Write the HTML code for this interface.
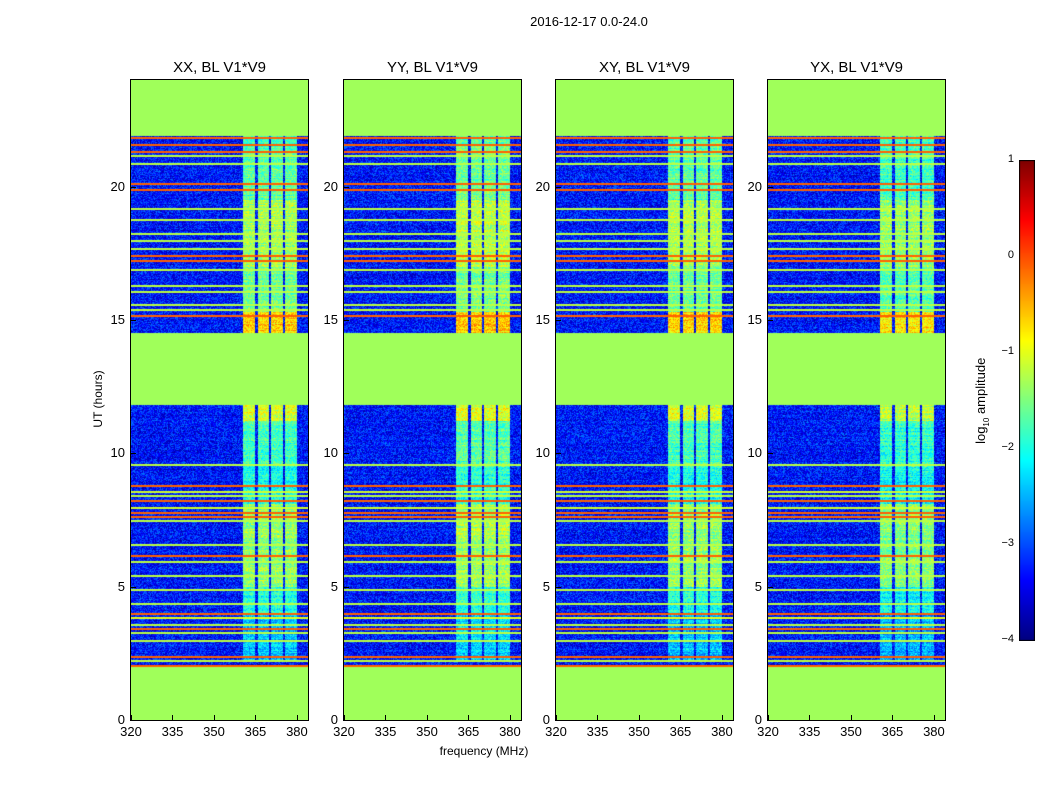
<!DOCTYPE html>
<html><head><meta charset="utf-8">
<style>
body{margin:0;background:#fff;width:1050px;height:800px;position:relative;overflow:hidden;font-family:"Liberation Sans","DejaVu Sans",sans-serif;color:#000}
.t{position:absolute;white-space:nowrap}
canvas{position:absolute}
</style></head><body>
<div class="t" style="left:489px;top:14px;width:200px;text-align:center;font-size:13px">2016-12-17 0.0-24.0</div>
<div id="root"></div>
<canvas id="cb" width="16" height="481" style="left:1019px;top:160px"></canvas>
<div class="t" style="left:932px;top:392px;width:100px;text-align:center;font-size:13px;transform:rotate(-90deg)">log<sub style="font-size:8px">10</sub> amplitude</div>
<script>
const titles=["XX, BL V1*V9","YY, BL V1*V9","XY, BL V1*V9","YX, BL V1*V9"];
const panelLeft=[131,344,556,768];
const xTicks=[320,335,350,365,380];
const yTicks=[0,5,10,15,20];
const cbTicks=[-4,-3,-2,-1,0,1];
const flagged=[[0,2.0],[11.8,14.5],[21.9,24]];
// horizontal RFI lines [hour, log amplitude]
const lines=[[21.85,-0.1],[21.6,-0.1],[21.35,-0.1],[21.2,-1.2],[20.9,-1.2],[20.15,-0.1],[19.9,-0.1],[19.2,-1.2],[18.8,-1.2],[18.25,-1.2],[18.0,-1.2],[17.7,-1.2],[17.45,-0.1],[17.25,-0.1],[16.9,-1.2],[16.3,-1.2],[16.1,-1.2],[15.6,-1.2],[15.4,-1.2],[15.2,-0.1],
[9.6,-1.2],[8.8,-0.1],[8.6,-1.1],[8.45,-1.2],[8.25,-0.1],[8.0,-1.1],[7.8,-0.1],[7.65,-0.1],[7.5,-1.2],[6.6,-1.2],[6.2,-0.1],[5.95,-1.2],[5.45,-1.2],[4.9,-1.2],[4.4,-1.2],[4.0,-0.1],[3.85,-1.0],[3.6,-1.2],[3.45,-0.1],[3.3,-1.2],[3.0,-1.2],[2.4,-0.1],[2.25,-1.2],[2.05,-0.1]];
const bandLo=[360.5,365.9,370.6,375.7];
const bandHi=[364.8,369.9,374.9,380.0];
// [hour start, hour end, band log amplitude]
const bandSeg=[[2.2,4.0,-2.4],[4.0,5.0,-2.0],[5.0,8.1,-1.4],[8.1,9.5,-2.0],[9.5,11.2,-1.8],[11.2,11.8,-1.1],[14.5,15.3,-0.7],[15.3,17.0,-1.6],[17.0,19.5,-1.3],[19.5,21.9,-1.7]];
const panelGain=[0,0.1,0,-0.1];

function jet(v){let t=Math.max(0,Math.min(1,(v+4)/5));
 const f=x=>Math.max(0,Math.min(1,x));
 return [f(1.5-Math.abs(4*t-3))*255,f(1.5-Math.abs(4*t-2))*255,f(1.5-Math.abs(4*t-1))*255];}
function hash(a,b){let h=(a*374761393+b*668265263)|0;h=(h^(h>>>13))*1274126177|0;return ((h^(h>>>16))>>>0)/4294967296;}

const W=177,H=640,y0=80;
const xs=f=>(f-320)*W/64, ys=h=>H-h*H/24;
const root=document.getElementById('root');
function el(tag,css,txt){const e=document.createElement(tag);e.style.cssText=css;if(txt!==undefined)e.textContent=txt;root.appendChild(e);return e;}

panelLeft.forEach((L,p)=>{
 const c=document.createElement('canvas');c.width=W;c.height=H;c.style.left=L+'px';c.style.top=y0+'px';
 
 
 root.appendChild(c);
 const ctx=c.getContext('2d');const img=ctx.createImageData(W,H);
 for(let y=0;y<H;y++){const h=(H-y-0.5)*24/H;
  let flag=flagged.some(r=>h>=r[0]&&h<r[1]);
  let seg=bandSeg.find(s=>h>=s[0]&&h<s[1]);
  const rowN=(hash(y,99+p)-0.5)*0.4;
  for(let x=0;x<W;x++){let v,col;
   if(flag){col=[160,255,90];}
   else{const f=320+(x+0.5)*64/W;
    v=-3.3+(hash(x+p*1000,y)-0.5)*1.0+rowN*0.5;
    if(seg){for(let b=0;b<4;b++)if(f>=bandLo[b]&&f<bandHi[b])v=seg[2]+panelGain[p]+(hash(y,x+7*p)-0.5)*0.8+rowN;}
    col=jet(v);}
   const i=(y*W+x)*4;img.data[i]=col[0];img.data[i+1]=col[1];img.data[i+2]=col[2];img.data[i+3]=255;}}
 ctx.putImageData(img,0,0);
 lines.forEach(l=>{const y=Math.round(ys(l[0]));const cc=jet(l[1]);ctx.fillStyle=`rgb(${cc[0]|0},${cc[1]|0},${cc[2]|0})`;ctx.fillRect(0,y,W,2);});
 const fr=el('div',`position:absolute;left:${L-1}px;top:${y0-1}px;width:${W}px;height:${H}px;border:1px solid #000`);
 
 
 const t=el('div',`position:absolute;left:${L}px;top:59px;width:${W}px;text-align:center;font-size:15px`,titles[p]);
 
 
 xTicks.forEach(v=>{const x=L+xs(v);
  const a=el('div',`position:absolute;left:${x}px;top:${y0+H-5}px;width:1px;height:5px;background:#000`);
  
  
  const b=el('div',`position:absolute;left:${x-20}px;top:${y0+H+4}px;width:40px;text-align:center;font-size:13px`,v);
  
  });
 yTicks.forEach(v=>{const y=y0+ys(v);
  const a=el('div',`position:absolute;left:${L}px;top:${y}px;width:5px;height:1px;background:#000`);
  
  
  const b=el('div',`position:absolute;left:${L-40}px;top:${y-8}px;width:34px;text-align:right;font-size:13px`,v);
  
  });
});
const xl=el('div','position:absolute;left:400px;top:744px;width:168px;text-align:center;font-size:12px','frequency (MHz)');


const yl=el('div','position:absolute;left:48px;top:392px;width:100px;text-align:center;font-size:12px;transform:rotate(-90deg)','UT (hours)');



const cb=document.getElementById('cb').getContext('2d');
for(let y=0;y<481;y++){const c=jet(1-y*5/480);cb.fillStyle=`rgb(${c[0]|0},${c[1]|0},${c[2]|0})`;cb.fillRect(0,y,16,1);}
cb.strokeStyle='#000';cb.strokeRect(0.5,0.5,15,480);
cbTicks.forEach(v=>{const y=160+(1-v)*96;
 const a=el('div',`position:absolute;left:1030px;top:${y}px;width:4px;height:1px;background:#000`);
 
 
 const b=el('div',`position:absolute;left:980px;top:${y-7}px;width:34px;text-align:right;font-size:11px`,v<0?'\u2212'+(-v):''+v);
 
 });
</script>
</body></html>
